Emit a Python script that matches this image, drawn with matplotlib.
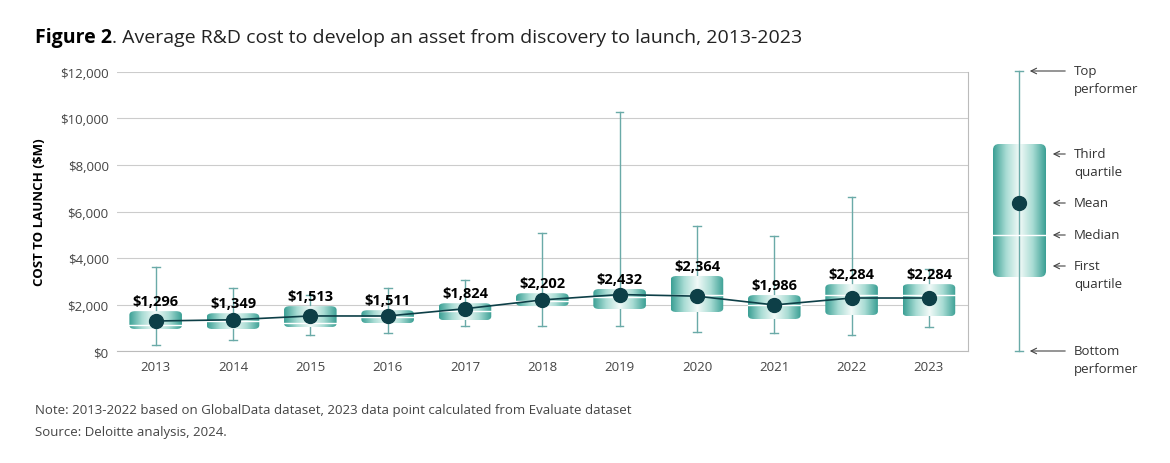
import numpy as np
import matplotlib
matplotlib.use('Agg')
from matplotlib import pyplot as plt
from matplotlib import patches
from matplotlib.colors import LinearSegmentedColormap

plt.rcParams['font.family'] = ['Open Sans', 'DejaVu Sans']

years = ['2013', '2014', '2015', '2016', '2017', '2018', '2019', '2020', '2021', '2022', '2023']
means = [1296, 1349, 1513, 1511, 1824, 2202, 2432, 2364, 1986, 2284, 2284]
q1 = [950, 950, 1030, 1200, 1330, 1935, 1810, 1680, 1380, 1550, 1500]
q3 = [1720, 1630, 1935, 1760, 2060, 2490, 2670, 3230, 2410, 2880, 2880]
medians = [1120, 1290, 1200, 1460, 1720, 2150, 2320, 2410, 1980, 2410, 2410]
lows = [260, 470, 690, 770, 1075, 1075, 1075, 820, 775, 690, 1030]
highs = [3610, 2710, 2410, 2710, 3050, 5075, 10280, 5380, 4950, 6620, 3530]

teal = '#6aaaa8'
dark = '#0d3f47'
cmap = LinearSegmentedColormap.from_list('box', ['#3a9f94', '#a9dcd4', '#f2faf8', '#a9dcd4', '#3a9f94'])
grad = np.linspace(0, 1, 256).reshape(1, -1)

fig = plt.figure(figsize=(11.7, 4.64), dpi=100)
ax = fig.add_axes([0.1, 0.241, 0.727, 0.602])
x = np.arange(len(years))
ax.set_xlim(-0.5, 10.5)
ax.set_ylim(0, 12000)
ax.set_yticks(range(0, 12001, 2000))
ax.set_yticklabels(['${:,}'.format(v) for v in range(0, 12001, 2000)], color='#444444', fontsize=9.5)
ax.set_xticks(x)
ax.set_xticklabels(years, color='#444444', fontsize=9.5)
ax.tick_params(length=0, pad=6)
ax.grid(axis='y', color='#cccccc', lw=0.8)
ax.set_axisbelow(True)
for s in ['top', 'left']:
    ax.spines[s].set_visible(False)
for s in ['right', 'bottom']:
    ax.spines[s].set_color('#bbbbbb')
ax.set_ylabel('COST TO LAUNCH ($M)', fontsize=9.5, fontweight='bold', labelpad=10)

w = 0.68
for i in range(len(years)):
    ax.plot([i, i], [lows[i], highs[i]], color=teal, lw=1, zorder=1)
    ax.plot([i - 0.05, i + 0.05], [lows[i]] * 2, color=teal, lw=1, zorder=1)
    ax.plot([i - 0.05, i + 0.05], [highs[i]] * 2, color=teal, lw=1, zorder=1)
    box = patches.FancyBboxPatch((i - w / 2, q1[i]), w, q3[i] - q1[i],
                                 boxstyle='round,pad=0,rounding_size=0.08',
                                 mutation_aspect=2000, fc='none', ec='none', zorder=2)
    ax.add_patch(box)
    im = ax.imshow(grad, cmap=cmap, aspect='auto', extent=(i - w / 2, i + w / 2, q1[i], q3[i]), zorder=2)
    im.set_clip_path(box)
    ax.plot([i - w / 2, i + w / 2], [medians[i]] * 2, color='white', lw=1, zorder=3)
    ax.text(i, q3[i] + 120, '${:,}'.format(means[i]), ha='center', va='bottom',
            fontsize=10.5, fontweight='bold', color='black', zorder=5)
ax.plot(x, means, color=dark, lw=1.2, zorder=4)
ax.plot(x, means, 'o', color=dark, ms=10, zorder=4)

# legend panel in pixel coordinates
lax = fig.add_axes([0, 0, 1, 1], zorder=-1)
lax.set_xlim(0, 1170)
lax.set_ylim(464, 0)
lax.axis('off')
lax.plot([1019, 1019], [72, 352], color=teal, lw=1)
lax.plot([1015, 1023], [72, 72], color=teal, lw=1)
lax.plot([1015, 1023], [352, 352], color=teal, lw=1)
lbox = patches.FancyBboxPatch((993, 145), 53, 133, boxstyle='round,pad=0,rounding_size=6',
                              fc='none', ec='none')
lax.add_patch(lbox)
lim = lax.imshow(grad, cmap=cmap, aspect='auto', extent=(993, 1046, 278, 145))
lim.set_clip_path(lbox)
lax.plot([993, 1046], [236, 236], color='white', lw=1)
lax.plot([1019], [204], 'o', color=dark, ms=10)
labels = [(72, 'Top\nperformer'), (155, 'Third\nquartile'), (204, 'Mean'),
          (236, 'Median'), (267, 'First\nquartile'), (352, 'Bottom\nperformer')]
for yy, t in labels:
    lax.annotate('', xy=(1027 if yy in (72, 352) else 1050, yy), xytext=(1068, yy),
                 arrowprops=dict(arrowstyle='->', color='#444444', lw=0.8))
    lax.text(1074, yy - 7, t, fontsize=9.5, color='#333333', va='top', linespacing=1.5)

t1 = fig.text(35 / 1170, 1 - 38 / 464, 'Figure 2', fontsize=14, fontweight='bold', va='center')
fig.canvas.draw()
bb = t1.get_window_extent()
fig.text(bb.x1 / 1170, 1 - 38 / 464, '. Average R&D cost to develop an asset from discovery to launch, 2013-2023',
         fontsize=14, va='center', color='#222222')
fig.text(35 / 1170, 1 - 411 / 464, 'Note: 2013-2022 based on GlobalData dataset, 2023 data point calculated from Evaluate dataset',
         fontsize=9.5, color='#444444', va='center')
fig.text(35 / 1170, 1 - 433 / 464, 'Source: Deloitte analysis, 2024.', fontsize=9.5, color='#444444', va='center')

fig.savefig('out.png', dpi=100)
